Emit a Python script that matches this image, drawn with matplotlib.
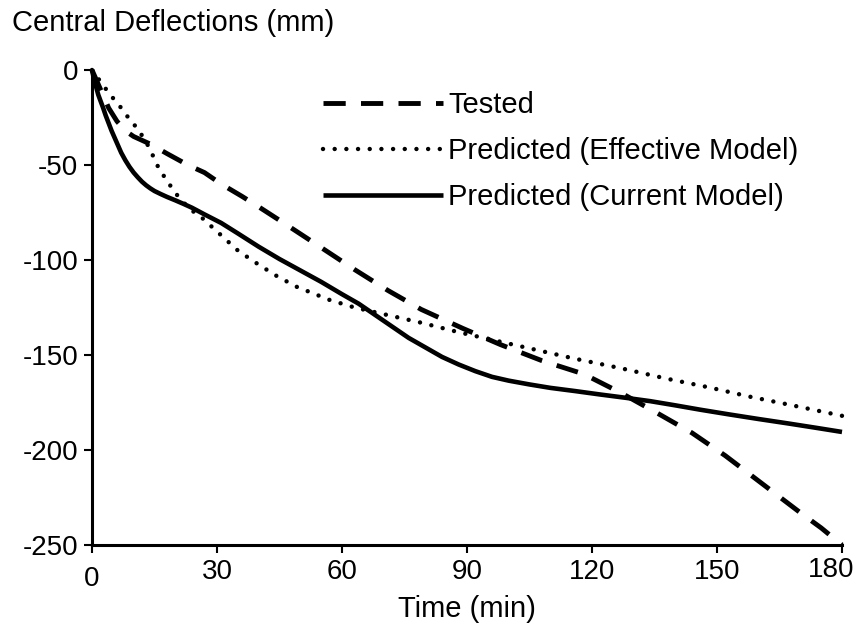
import matplotlib.pyplot as plt

plt.rcParams['font.family'] = ['Liberation Sans', 'DejaVu Sans']
plt.rcParams['lines.scale_dashes'] = False
plt.rcParams['axes.unicode_minus'] = False

# Tested (dashed)
t_tested = [0, 2, 4, 6, 8, 10, 14, 18, 23, 27, 31, 36, 40, 46, 54, 63, 71, 79,
            89, 98, 108, 118, 127, 136, 144, 152, 158, 164, 170, 175, 180]
d_tested = [0, -10, -20, -27, -32, -35, -39, -44, -50, -54, -60, -66.5, -72,
            -80.5, -92, -105, -116, -126, -136, -144.5, -153, -160, -170, -181,
            -191, -203, -213, -223, -233, -241, -250]

# Predicted (Effective Model) (dotted)
t_eff = [0, 2, 4, 5.5, 7.4, 9, 11, 13, 14, 15, 16.3, 18, 19.4, 21.6, 24, 26, 28,
         32, 35, 39, 44, 49, 57, 63, 71, 79, 88, 96, 105, 116, 127, 138, 148,
         158, 167, 180]
d_eff = [0, -6, -12, -16, -21, -26, -31, -38, -42, -47, -53, -58, -63, -69, -74,
         -77, -81, -89, -95, -101, -108, -114, -121, -125, -129, -133, -138,
         -142, -146.5, -152, -157, -162.5, -167, -172, -176, -182]

# Predicted (Current Model) (solid)
t_cur = [0, 0.5, 1, 1.5, 2, 2.6, 3.3, 4, 4.7, 5.5, 6.3, 7, 8, 9, 10, 11, 12, 13,
         14, 15, 16.5, 18, 20, 22, 24, 27, 31, 35, 40, 45, 50, 55, 60, 64, 68,
         72, 76, 80, 84, 88, 92, 96, 100, 105, 110, 116, 122, 128, 134, 140,
         146, 153, 160, 167, 174, 180]
d_cur = [0, -5, -9, -13, -16, -19.5, -24, -28, -32, -36, -40, -43.5, -47.5, -51,
         -54, -56.5, -58.8, -60.7, -62.3, -63.7, -65.3, -66.8, -68.6, -70.5,
         -72.5, -76, -80.5, -86, -93, -99.5, -105.5, -111.5, -118, -123, -129,
         -135, -141, -146, -151, -155, -158.5, -161.5, -163.5, -165.5, -167.3,
         -169, -170.8, -172.5, -174.3, -176.5, -178.8, -181.3, -183.7, -186,
         -188.4, -190.5]

x_ticks = [0, 30, 60, 90, 120, 150, 180]
y_ticks = [0, -50, -100, -150, -200, -250]

fig = plt.figure(figsize=(8.58, 6.23), dpi=100)
ax = fig.add_axes([92 / 858, 1 - 545 / 623, 750 / 858, 475 / 623])

ax.plot(t_tested, d_tested, color='black', lw=3.5, dashes=[16, 11],
        label='Tested', clip_on=False)
ax.plot(t_eff, d_eff, color='black', lw=3.2, dashes=[0.01, 8.4],
        dash_capstyle='round', label='Predicted (Effective Model)', clip_on=False)
ax.plot(t_cur, d_cur, color='black', lw=3.3, solid_capstyle='butt',
        solid_joinstyle='round', label='Predicted (Current Model)', clip_on=False)

ax.set_xlim(0, 180)
ax.set_ylim(-250, 0)
for s in ['top', 'right']:
    ax.spines[s].set_visible(False)
for s in ['left', 'bottom']:
    ax.spines[s].set_linewidth(2.2)

ax.set_xticks(x_ticks)
ax.set_xticklabels([''] + [str(v) for v in x_ticks[1:-1]] + [''])
ax.set_yticks(y_ticks)
ax.tick_params(axis='both', direction='out', length=6, width=1.5,
               labelsize=20, pad=4)
# first and last x labels sit off their ticks in the original
ax.annotate(str(x_ticks[0]), xy=(x_ticks[0], 0),
            xycoords=('data', 'axes fraction'), xytext=(0, -15),
            textcoords='offset points', ha='center', va='top', fontsize=20)
ax.annotate(str(x_ticks[-1]), xy=(x_ticks[-1], 0),
            xycoords=('data', 'axes fraction'), xytext=(-8, -8.5),
            textcoords='offset points', ha='center', va='top', fontsize=20)

fig.text(12 / 858, 1 - 23 / 623, 'Central Deflections (mm)', fontsize=21,
         ha='left', va='center')
ax.set_xlabel('Time (min)', fontsize=21, labelpad=7)

ax.legend(loc='upper left', bbox_to_anchor=(323 / 858, 1 - 91 / 623),
          bbox_transform=fig.transFigure, frameon=False, fontsize=21,
          handlelength=4.1, handletextpad=0.2, labelspacing=0.62,
          borderpad=0, borderaxespad=0)

fig.savefig('out.png', dpi=100)
